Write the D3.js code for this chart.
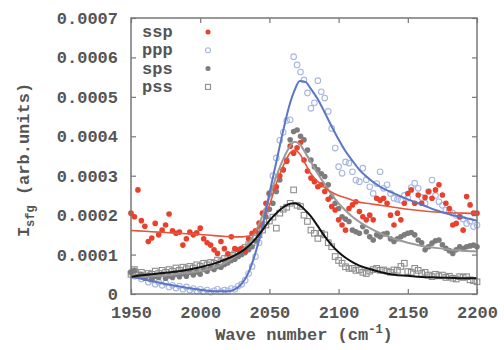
<!DOCTYPE html>
<html>
<head>
<meta charset="utf-8">
<script src="https://cdn.jsdelivr.net/npm/d3@7"></script>
<style>
  body { margin: 0; background: #fff; }
  text { font-family: "Liberation Mono", "DejaVu Sans Mono", monospace; }
</style>
</head>
<body>
<div id="chart-area"></div>
<script>
// Measured spectra, values in units of 1e-4 (arb. units), one point every 2.5 cm-1 from 1950
const WAVE_START = 1950, WAVE_STEP = 2.5;

const ssp = [2.05, 1.96, 2.64, 1.86, 1.72, 1.33, 1.42, 1.79, 1.50, 1.62,
             1.75, 2.03, 1.60, 1.54, 1.57, 1.24, 1.40, 1.57, 1.50, 1.55,
             1.67, 1.40, 1.30, 1.24, 1.12, 1.03, 1.33, 1.15, 1.02, 1.45,
             1.15, 1.12, 1.16, 1.10, 1.40, 1.54, 1.60, 1.80, 2.05, 2.30,
             2.55, 2.68, 2.72, 3.00, 3.15, 3.36, 3.75, 3.57, 3.71, 3.84,
             3.40, 3.12, 2.94, 2.85, 2.72, 2.77, 2.60, 2.40, 2.22, 2.13,
             1.88, 1.75, 1.62, 2.17, 2.26, 2.34, 2.09, 1.96, 1.88, 2.00,
             1.88, 2.43, 2.38, 2.43, 2.30, 2.00, 1.75, 2.05, 1.88, 2.30,
             2.55, 2.64, 2.30, 2.51, 2.30, 2.45, 2.60, 2.43, 2.64, 2.77,
             2.51, 2.30, 2.17, 1.75, 1.79, 1.96, 1.62, 2.47, 2.26, 2.05, 2.05];

const ppp = [0.55, 0.45, 0.50, 0.38, 0.42, 0.30, 0.35, 0.25, 0.30, 0.22,
             0.28, 0.18, 0.22, 0.15, 0.20, 0.12, 0.18, 0.10, 0.14, 0.08,
             0.12, 0.06, 0.10, 0.05, 0.08, 0.12, 0.06, 0.10, 0.08, 0.14,
             0.12, 0.20, 0.25, 0.35, 0.52, 0.70, 0.95, 1.30, 1.70, 2.10,
             2.55, 3.00, 3.45, 3.90, 4.10, 4.40, 4.42, 6.02, 5.81, 5.63,
             5.43, 5.10, 4.71, 4.85, 5.41, 5.13, 4.97, 4.63, 4.20, 3.70,
             3.23, 3.06, 3.35, 3.32, 3.10, 2.89, 2.85, 3.19, 2.90, 2.72,
             2.55, 2.80, 3.10, 2.68, 2.77, 2.55, 2.43, 2.40, 2.38, 2.50,
             2.43, 2.70, 2.81, 2.68, 2.45, 2.30, 2.60, 2.89, 2.50, 2.34,
             2.25, 2.13, 2.10, 2.05, 2.00, 1.96, 1.90, 1.79, 1.85, 1.71, 1.75];

const sps = [0.55, 0.60, 0.45, 0.50, 0.40, 0.48, 0.38, 0.45, 0.42, 0.50,
             0.40, 0.46, 0.42, 0.50, 0.44, 0.52, 0.45, 0.55, 0.48, 0.56,
             0.50, 0.62, 0.58, 0.66, 0.62, 0.70, 0.68, 0.75, 0.79, 0.85,
             0.88, 0.95, 1.00, 1.05, 1.12, 1.20, 1.35, 1.54, 1.75, 1.96,
             2.15, 2.30, 2.60, 2.89, 3.15, 3.40, 3.91, 4.12, 4.16, 4.00,
             3.91, 3.65, 3.40, 3.23, 3.15, 3.05, 2.98, 2.77, 2.47, 2.30,
             2.17, 1.96, 1.90, 1.84, 1.62, 1.58, 1.54, 1.71, 1.58, 1.45,
             1.37, 1.50, 1.45, 1.52, 1.54, 1.40, 1.33, 1.40, 1.45, 1.50,
             1.54, 1.56, 1.50, 1.37, 1.30, 1.12, 1.20, 1.29, 1.35, 1.37,
             1.25, 1.16, 1.10, 1.03, 1.12, 1.20, 1.15, 1.20, 1.22, 1.24, 1.20];

const pss = [0.50, 0.62, 0.48, 0.55, 0.45, 0.52, 0.50, 0.58, 0.52, 0.60,
             0.55, 0.62, 0.58, 0.66, 0.60, 0.68, 0.64, 0.70, 0.66, 0.74,
             0.70, 0.78, 0.74, 0.80, 0.78, 0.86, 0.82, 0.90, 0.92, 0.98,
             1.02, 1.08, 1.12, 1.18, 1.25, 1.30, 1.42, 1.50, 1.62, 1.75,
             1.85, 1.95, 1.67, 2.05, 2.15, 2.20, 2.30, 2.64, 2.25, 2.22,
             2.00, 1.84, 1.62, 1.54, 1.41, 1.54, 1.50, 1.30, 1.20, 0.95,
             0.85, 0.78, 0.69, 0.65, 0.65, 0.60, 0.61, 0.55, 0.52, 0.58,
             0.62, 0.65, 0.60, 0.61, 0.58, 0.55, 0.61, 0.60, 0.70, 0.78,
             0.57, 0.55, 0.65, 0.60, 0.52, 0.55, 0.48, 0.44, 0.50, 0.46,
             0.48, 0.42, 0.45, 0.40, 0.38, 0.44, 0.42, 0.44, 0.36, 0.34, 0.31];

// Fitted curves at these wavenumbers (same 1e-4 units)
const fitWaves = [1950, 1960, 1970, 1980, 1990, 2000, 2010, 2020, 2025, 2030,
                  2035, 2040, 2045, 2050, 2055, 2060, 2065, 2068, 2072, 2076,
                  2080, 2085, 2090, 2095, 2100, 2105, 2110, 2115, 2120, 2130,
                  2140, 2150, 2160, 2170, 2180, 2190, 2200];
const fitSsp = [1.61, 1.59, 1.57, 1.55, 1.53, 1.51, 1.48, 1.46, 1.45, 1.45,
                1.47, 1.58, 1.82, 2.25, 2.80, 3.25, 3.58, 3.65, 3.55, 3.30,
                3.05, 2.85, 2.70, 2.58, 2.50, 2.44, 2.38, 2.33, 2.30, 2.25,
                2.20, 2.15, 2.11, 2.08, 2.06, 2.05, 2.04];
const fitPpp = [0.44, 0.37, 0.29, 0.22, 0.16, 0.11, 0.07, 0.07, 0.12, 0.26,
                0.55, 1.05, 1.70, 2.55, 3.35, 4.15, 4.85, 5.15, 5.40, 5.38,
                5.20, 4.94, 4.60, 4.25, 3.92, 3.62, 3.38, 3.15, 2.98, 2.72,
                2.55, 2.40, 2.27, 2.13, 2.02, 1.94, 1.86];
const fitSps = [0.42, 0.44, 0.46, 0.49, 0.53, 0.58, 0.67, 0.83, 0.95, 1.10,
                1.30, 1.58, 1.98, 2.45, 2.98, 3.42, 3.75, 3.86, 3.80, 3.58,
                3.35, 3.05, 2.78, 2.52, 2.30, 2.12, 1.96, 1.83, 1.72, 1.54,
                1.40, 1.30, 1.22, 1.17, 1.13, 1.10, 1.08];
const fitPss = [0.44, 0.48, 0.52, 0.56, 0.61, 0.68, 0.77, 0.90, 0.98, 1.08,
                1.22, 1.40, 1.62, 1.86, 2.05, 2.20, 2.29, 2.30, 2.25, 2.12,
                1.97, 1.72, 1.46, 1.24, 1.06, 0.92, 0.81, 0.72, 0.66, 0.56,
                0.49, 0.46, 0.43, 0.42, 0.41, 0.40, 0.40];

const xTicks = [1950, 2000, 2050, 2100, 2150, 2200];
const yTicks = [0, 0.0001, 0.0002, 0.0003, 0.0004, 0.0005, 0.0006, 0.0007];
const yTickLabels = ['0', '0.0001', '0.0002', '0.0003', '0.0004', '0.0005', '0.0006', '0.0007'];
const seriesNames = ['ssp', 'ppp', 'sps', 'pss'];

const UNIT = 1e-4;
const WIDTH = 504, HEIGHT = 350;
const MARGIN = {LEFT: 131, RIGHT: 27, TOP: 18, BOTTOM: 56};
const wGraph = WIDTH - MARGIN.LEFT - MARGIN.RIGHT;
const hGraph = HEIGHT - MARGIN.TOP - MARGIN.BOTTOM;
const AXIS_COLOR = '#777';
const TEXT_COLOR = '#555';

const toPoints = vals => vals.map((v, i) => ({w: WAVE_START + i * WAVE_STEP, v: v * UNIT}));
const toFit = vals => vals.map((v, i) => ({w: fitWaves[i], v: v * UNIT}));

const svg = d3.select('#chart-area').append('svg')
    .attr('width', WIDTH)
    .attr('height', HEIGHT);

const xScale = d3.scaleLinear().domain([1950, 2200]).range([0, wGraph]);
const yScale = d3.scaleLinear().domain([0, 0.0007]).range([hGraph, 0]);

const group = svg.append('g')
    .attr('transform', `translate(${MARGIN.LEFT},${MARGIN.TOP})`);

// Axes, ticks pointing inward on all four sides
function styleAxis(g) {
    g.select('.domain').remove();
    g.selectAll('line').attr('stroke', AXIS_COLOR).attr('stroke-width', 1.2);
    g.selectAll('text')
        .attr('fill', TEXT_COLOR)
        .attr('font-size', '17px')
        .attr('font-weight', 'bold')
        .attr('font-family', '"Liberation Mono", monospace');
}

group.append('g')
    .attr('transform', `translate(0,${hGraph})`)
    .call(d3.axisBottom(xScale).tickValues(xTicks).tickSizeInner(-5).tickSizeOuter(0).tickPadding(12)
        .tickFormat(d => String(d)))
    .call(styleAxis);
group.append('g')
    .call(d3.axisTop(xScale).tickValues(xTicks).tickSizeInner(-5).tickSizeOuter(0).tickFormat(''))
    .call(styleAxis);
group.append('g')
    .call(d3.axisLeft(yScale).tickValues(yTicks).tickSizeInner(-5).tickSizeOuter(0).tickPadding(13)
        .tickFormat((d, i) => yTickLabels[i]))
    .call(styleAxis);
group.append('g')
    .attr('transform', `translate(${wGraph},0)`)
    .call(d3.axisRight(yScale).tickValues(yTicks).tickSizeInner(-5).tickSizeOuter(0).tickFormat(''))
    .call(styleAxis);

// Data points
const xOf = d => xScale(d.w);
const yOf = d => yScale(d.v);

group.append('g').selectAll('circle')
    .data(toPoints(ppp)).enter().append('circle')
    .attr('cx', xOf).attr('cy', yOf).attr('r', 2.8)
    .attr('fill', 'none').attr('stroke', '#a8b6e0').attr('stroke-width', 1.1);

group.append('g').selectAll('rect')
    .data(toPoints(pss)).enter().append('rect')
    .attr('x', d => xOf(d) - 2.8).attr('y', d => yOf(d) - 2.8)
    .attr('width', 5.6).attr('height', 5.6)
    .attr('fill', 'none').attr('stroke', '#8e8e8e').attr('stroke-width', 1.1);

group.append('g').selectAll('circle')
    .data(toPoints(sps)).enter().append('circle')
    .attr('cx', xOf).attr('cy', yOf).attr('r', 2.8)
    .attr('fill', '#7c7c7c');

group.append('g').selectAll('circle')
    .data(toPoints(ssp)).enter().append('circle')
    .attr('cx', xOf).attr('cy', yOf).attr('r', 2.8)
    .attr('fill', '#e8402c');

// Fit lines
const line = d3.line().x(xOf).y(yOf).curve(d3.curveMonotoneX);
const fits = [
    {vals: fitSps, color: '#9a9a9a', width: 2},
    {vals: fitSsp, color: '#e4553d', width: 1.6},
    {vals: fitPpp, color: '#5a76c4', width: 2},
    {vals: fitPss, color: '#111', width: 2}
];
fits.forEach(f => {
    group.append('path')
        .datum(toFit(f.vals))
        .attr('d', line)
        .attr('fill', 'none')
        .attr('stroke', f.color)
        .attr('stroke-width', f.width);
});

// Frame
group.append('rect')
    .attr('width', wGraph).attr('height', hGraph)
    .attr('fill', 'none').attr('stroke', AXIS_COLOR).attr('stroke-width', 1.5);

// Legend
const legend = group.append('g');
seriesNames.forEach((name, i) => {
    const y = 14 + i * 18.3;
    legend.append('text')
        .attr('x', 11).attr('y', y + 5)
        .attr('font-size', '17px').attr('font-weight', 'bold')
        .attr('fill', TEXT_COLOR)
        .text(name);
    const mx = 77;
    if (name === 'ssp') {
        legend.append('circle').attr('cx', mx).attr('cy', y).attr('r', 2.5).attr('fill', '#e8402c');
    } else if (name === 'ppp') {
        legend.append('circle').attr('cx', mx).attr('cy', y).attr('r', 2.5)
            .attr('fill', 'none').attr('stroke', '#a8b6e0').attr('stroke-width', 1.1);
    } else if (name === 'sps') {
        legend.append('circle').attr('cx', mx).attr('cy', y).attr('r', 2.5).attr('fill', '#7c7c7c');
    } else {
        legend.append('rect').attr('x', mx - 2.5).attr('y', y - 2.5).attr('width', 5).attr('height', 5)
            .attr('fill', 'none').attr('stroke', '#8e8e8e').attr('stroke-width', 1.1);
    }
});

// Axis titles
const xTitle = svg.append('text')
    .attr('x', MARGIN.LEFT + wGraph / 2)
    .attr('y', 340)
    .attr('text-anchor', 'middle')
    .attr('font-size', '17px').attr('font-weight', 'bold')
    .attr('fill', TEXT_COLOR);
xTitle.append('tspan').text('Wave number (cm');
xTitle.append('tspan').attr('font-size', '12px').attr('dy', -7).text('-1');
xTitle.append('tspan').attr('dy', 7).text(')');

const yTitle = svg.append('text')
    .attr('transform', 'translate(29,160) rotate(-90)')
    .attr('text-anchor', 'middle')
    .attr('font-size', '17px').attr('font-weight', 'bold')
    .attr('fill', TEXT_COLOR);
yTitle.append('tspan').text('I');
yTitle.append('tspan').attr('font-size', '12px').attr('dy', 5).text('sfg');
yTitle.append('tspan').attr('dy', -5).text(' (arb.units)');
</script>
</body>
</html>
